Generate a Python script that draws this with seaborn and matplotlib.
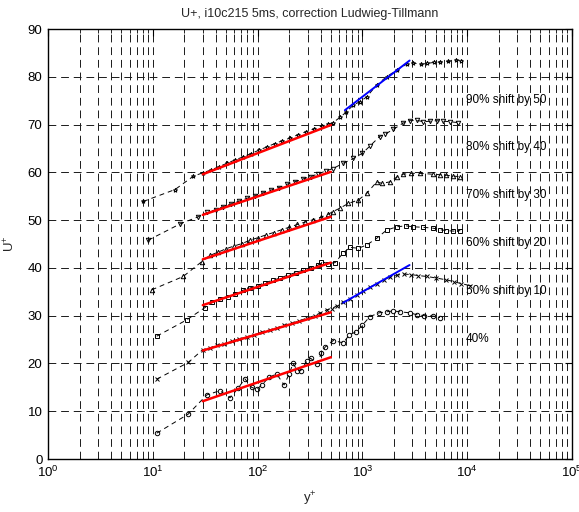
import numpy as np
import pandas as pd
import matplotlib
matplotlib.use("Agg")
import matplotlib.pyplot as plt
import seaborn as sns
from matplotlib.ticker import LogLocator, LogFormatterMathtext, NullLocator

# ---------------- data ----------------
x40 = [10.9, 21.8, 32.7, 43.6, 54.5, 65.2, 75.5, 87.7, 98.3, 109.5, 128.5, 152, 179, 200, 218, 240, 258, 298, 321, 366, 407, 440, 527, 656, 752, 866, 1000, 1176, 1450, 1700, 1975, 2300, 2820, 3300, 3900, 4750, 5500]
u40 = [5.4, 9.4, 13.4, 14.3, 12.8, 14.8, 16.8, 15.0, 14.6, 15.5, 17.1, 17.8, 15.5, 17.8, 20.0, 18.5, 18.5, 20.6, 21.1, 19.9, 22.1, 23.4, 24.8, 24.3, 26.0, 26.6, 28.0, 29.8, 30.6, 30.8, 31.0, 30.8, 30.6, 30.2, 30.0, 29.9, 29.6]

x50 = [10.9, 21.8, 30, 35, 41, 48, 57, 67, 79, 93, 110, 130, 153, 180, 212, 250, 295, 350, 390, 455, 510, 575, 655, 760, 880, 1020, 1180, 1370, 1600, 1850, 2150, 2500, 2900, 3400, 4140, 5000, 6330, 7500, 8800, 10600]
u50 = [16.7, 20.2, 22.9, 23.2, 23.8, 24.1, 24.6, 25.2, 25.5, 26.0, 26.6, 27.0, 27.4, 28.0, 28.4, 28.9, 29.5, 30.0, 30.5, 31.2, 31.5, 32.1, 32.8, 33.5, 34.3, 35.1, 35.9, 36.7, 37.5, 38.1, 38.5, 38.7, 38.6, 38.4, 38.2, 37.9, 37.5, 37.1, 36.7, 36.3]

x60 = [10.9, 21, 31.5, 37, 44, 52, 61, 72, 85, 100, 118, 140, 165, 195, 230, 272, 320, 380, 407, 470, 548, 655, 760, 915, 1100, 1370, 1700, 2130, 2600, 3050, 3800, 4750, 5500, 6330, 7400, 8580]
u60 = [25.7, 29.1, 31.7, 32.8, 33.5, 34.0, 34.6, 35.3, 35.8, 36.3, 36.9, 37.4, 37.9, 38.5, 39.0, 39.5, 40.0, 40.6, 41.3, 40.9, 41.1, 43.1, 44.3, 44.1, 44.8, 46.2, 47.9, 48.6, 48.8, 48.6, 48.5, 48.3, 48.0, 47.8, 47.7, 47.8]

x70 = [9.76, 19.5, 29.3, 35, 42, 50, 60, 71, 85, 100, 120, 142, 170, 200, 240, 285, 340, 400, 470, 525, 610, 735, 915, 1100, 1370, 1530, 1830, 2130, 2440, 2900, 3530, 4750, 5500, 6330, 7400, 8580]
u70 = [35.4, 38.2, 41.3, 42.6, 43.3, 44.0, 44.6, 45.1, 45.8, 46.3, 46.9, 47.4, 48.0, 48.5, 49.1, 49.6, 50.1, 50.6, 51.2, 51.8, 52.5, 53.5, 54.2, 55.6, 58.0, 57.7, 58.0, 59.0, 59.6, 59.8, 59.8, 59.6, 59.5, 59.4, 59.2, 59.1]

x80 = [9.05, 18.2, 27.2, 33, 40, 47, 56, 67, 80, 95, 113, 135, 160, 190, 225, 270, 320, 380, 450, 525, 655, 820, 1000, 1180, 1460, 1650, 1975, 2440, 2820, 3300, 3800, 4400, 5100, 5900, 6840, 8200]
u80 = [45.8, 49.2, 50.7, 51.6, 52.2, 52.8, 53.4, 54.0, 54.6, 55.1, 55.7, 56.3, 56.8, 57.5, 58.0, 58.6, 59.1, 59.7, 60.3, 60.8, 61.9, 62.9, 64.0, 65.5, 67.5, 68.0, 69.0, 70.3, 70.8, 70.9, 70.6, 70.7, 70.8, 70.7, 70.6, 70.4]

x90 = [8.1, 16.3, 24.4, 30, 36, 43, 51, 61, 72, 86, 102, 122, 145, 172, 205, 245, 290, 345, 410, 470, 525, 610, 700, 820, 950, 1100, 1370, 1700, 2130, 2670, 3050, 3600, 4140, 4800, 5500, 6500, 7800, 8800]
u90 = [53.9, 56.4, 59.2, 59.9, 60.5, 61.2, 61.9, 62.6, 63.2, 63.9, 64.6, 65.3, 66.0, 66.6, 67.2, 67.9, 68.5, 69.1, 69.7, 70.1, 70.4, 71.5, 72.6, 74.1, 74.8, 75.8, 78.3, 80.0, 81.4, 82.7, 82.9, 82.6, 82.8, 83.0, 83.1, 83.2, 83.5, 83.4]

series_names = ["40%", "50% shift by 10", "60% shift by 20", "70% shift by 30", "80% shift by 40", "90% shift by 50"]
series_x = [x40, x50, x60, x70, x80, x90]
series_u = [u40, u50, u60, u70, u80, u90]
series_markers = ["o", "x", "s", "^", "v", "*"]

# log-law fits (red), inner range y+ = 30 .. 500
red_x = [30, 500]
red_u = [[12.1, 21.3], [22.7, 30.7], [32.2, 41.1], [41.8, 50.7], [51.1, 60.1], [59.6, 69.9]]
# outer fits (blue)
blue_x = [[655, 2820], [680, 2820]]
blue_u = [[32.7, 40.6], [73.0, 83.4]]

label_x = 9700
label_u = [25.1, 35.2, 45.3, 55.3, 65.2, 75.1]

# ---------------- style ----------------
sns.set_style("white")
plt.rcParams["font.family"] = ["Liberation Sans", "DejaVu Sans"]
plt.rcParams["mathtext.fontset"] = "custom"
plt.rcParams["mathtext.rm"] = "Liberation Sans"
plt.rcParams["mathtext.it"] = "Liberation Sans"
plt.rcParams["mathtext.default"] = "regular"

fig = plt.figure(figsize=(5.79, 5.12), dpi=100)
ax = fig.add_axes([48 / 579, 1 - 459 / 512, 524 / 579, 430 / 512])

rows = []
for name, xs, us in zip(series_names, series_x, series_u):
    for xv, uv in zip(xs, us):
        rows.append({"series": name, "yplus": xv, "Uplus": uv})
df = pd.DataFrame(rows)

for name, mk in zip(series_names, series_markers):
    sub = df[df["series"] == name]
    sns.lineplot(data=sub, x="yplus", y="Uplus", ax=ax, sort=False, color="k",
                 linestyle=(0, (5, 4)), linewidth=0.7, marker=mk, markersize=3.2,
                 markerfacecolor="none", markeredgecolor="k", markeredgewidth=0.7,
                 estimator=None, legend=False)

red_df = pd.DataFrame([{"fit": i, "yplus": xv, "Uplus": uv}
                       for i, us in enumerate(red_u) for xv, uv in zip(red_x, us)])
for i in range(len(red_u)):
    sns.lineplot(data=red_df[red_df["fit"] == i], x="yplus", y="Uplus", ax=ax,
                 color="red", linewidth=1.8, estimator=None, legend=False)

blue_df = pd.DataFrame([{"fit": i, "yplus": xv, "Uplus": uv}
                        for i, (xs, us) in enumerate(zip(blue_x, blue_u)) for xv, uv in zip(xs, us)])
for i in range(len(blue_u)):
    sns.lineplot(data=blue_df[blue_df["fit"] == i], x="yplus", y="Uplus", ax=ax,
                 color="blue", linewidth=1.4, estimator=None, legend=False)

for name, lu in zip(series_names, label_u):
    ax.text(label_x, lu, name, fontsize=8.5, ha="left", va="center", color="k")

ax.set_xscale("log")
ax.set_xlim(1, 1e5)
ax.set_ylim(0, 90)
ax.xaxis.set_major_locator(LogLocator(base=10, numticks=10))
ax.xaxis.set_minor_locator(LogLocator(base=10, subs=np.arange(2, 10), numticks=20))
ax.xaxis.set_major_formatter(LogFormatterMathtext())
ax.set_yticks(np.arange(0, 91, 10))
ax.yaxis.set_minor_locator(NullLocator())

ax.grid(True, which="both", axis="x", color="0.1", linestyle=(0, (8, 5)), linewidth=0.7)
ax.grid(True, which="major", axis="y", color="0.1", linestyle=(0, (8, 5)), linewidth=0.7)
ax.set_axisbelow(True)

ax.tick_params(which="both", direction="in", top=True, right=True, labelsize=9.5, colors="k")
ax.tick_params(which="major", length=5, width=0.8, pad=4)
ax.tick_params(which="minor", length=3, width=0.6)
for sp in ax.spines.values():
    sp.set_visible(True)
    sp.set_color("k")
    sp.set_linewidth(1.0)

ax.set_title("U+, i10c215 5ms, correction Ludwieg-Tillmann", fontsize=9, pad=9)
ax.set_xlabel("y$^{+}$", fontsize=9.5, labelpad=7)
ax.set_ylabel("U$^{+}$", fontsize=9.5, labelpad=7)

fig.savefig("out.png", dpi=100)
